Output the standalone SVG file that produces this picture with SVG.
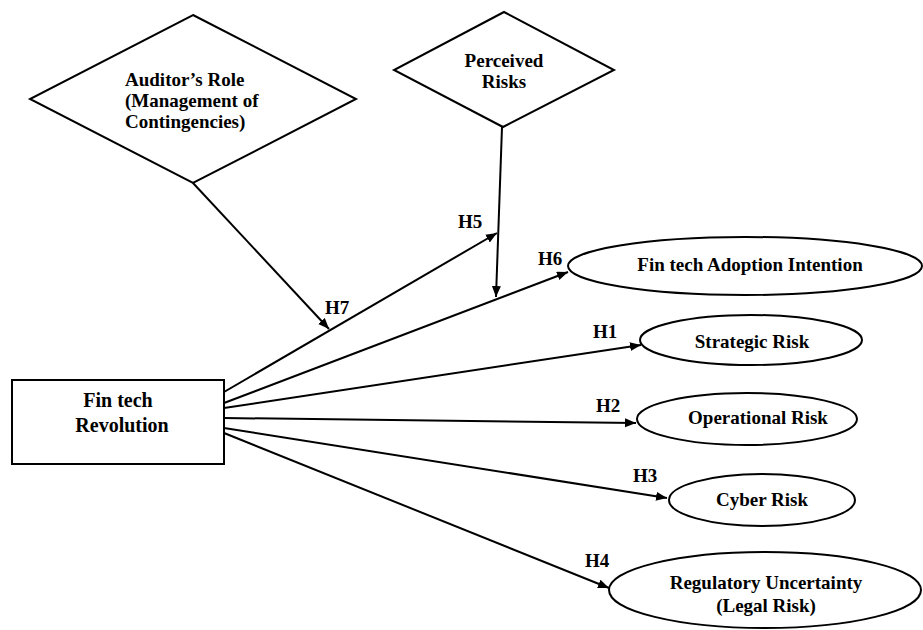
<svg xmlns="http://www.w3.org/2000/svg" width="923" height="630" viewBox="0 0 923 630">
<style>
.shape{fill:#fff;stroke:#000;stroke-width:2}
.t{font-family:"Liberation Serif","Times New Roman",serif;font-weight:bold;font-size:19px;fill:#000}
.c{text-anchor:middle}
.conn{stroke:#000;stroke-width:2;fill:none;marker-end:url(#arr)}
</style>
<defs>
<marker id="arr" markerUnits="userSpaceOnUse" markerWidth="12" markerHeight="10" refX="11" refY="4.5" orient="auto">
<path d="M0,0 L11,4.5 L0,9 z" fill="#000"/>
</marker>
</defs>
<rect width="923" height="630" fill="#fff"/>
<g id="connectors">
<line class="conn" x1="193" y1="183" x2="329" y2="329"/>
<line class="conn" x1="502" y1="127" x2="496" y2="297"/>
<line class="conn" x1="224" y1="392" x2="497" y2="233"/>
<line class="conn" x1="224" y1="403" x2="568" y2="272"/>
<line class="conn" x1="224" y1="408" x2="641" y2="345"/>
<line class="conn" x1="224" y1="418" x2="636" y2="423"/>
<line class="conn" x1="224" y1="428" x2="667" y2="498"/>
<line class="conn" x1="224" y1="433" x2="609" y2="588"/>
<text class="t" x="325" y="314">H7</text>
<text class="t" x="458" y="228">H5</text>
<text class="t" x="538" y="265">H6</text>
<text class="t" x="593" y="338">H1</text>
<text class="t" x="596" y="412">H2</text>
<text class="t" x="633" y="482">H3</text>
<text class="t" x="585" y="567">H4</text>
</g>
<g id="auditor">
<polygon class="shape" points="193,15 356,99 193,183 30,99"/>
<text class="t" x="125" y="86">Auditor’s Role</text>
<text class="t" x="125" y="107">(Management of</text>
<text class="t" x="125" y="128">Contingencies)</text>
</g>
<g id="perceived">
<polygon class="shape" points="504,12 614,70 503,127 394,70"/>
<text class="t c" x="504" y="67">Perceived</text>
<text class="t c" x="504" y="88">Risks</text>
</g>
<g id="revolution">
<rect class="shape" x="12" y="380" width="212" height="84"/>
<text class="t c" x="118" y="407" style="font-size:20px">Fin tech</text>
<text class="t c" x="122" y="432" style="font-size:20px">Revolution</text>
</g>
<g id="adoption">
<ellipse class="shape" cx="745" cy="266" rx="177" ry="29"/>
<text class="t c" x="750" y="271">Fin tech Adoption Intention</text>
</g>
<g id="strategic">
<ellipse class="shape" cx="751" cy="340" rx="111" ry="25"/>
<text class="t c" x="752" y="348">Strategic Risk</text>
</g>
<g id="operational">
<ellipse class="shape" cx="747" cy="419" rx="110" ry="26"/>
<text class="t c" x="758" y="424">Operational Risk</text>
</g>
<g id="cyber">
<ellipse class="shape" cx="762" cy="500" rx="93" ry="26"/>
<text class="t c" x="762" y="506">Cyber Risk</text>
</g>
<g id="regulatory">
<ellipse class="shape" cx="765" cy="590" rx="156" ry="38"/>
<text class="t c" x="766" y="589">Regulatory Uncertainty</text>
<text class="t c" x="766" y="612">(Legal Risk)</text>
</g>
</svg>
